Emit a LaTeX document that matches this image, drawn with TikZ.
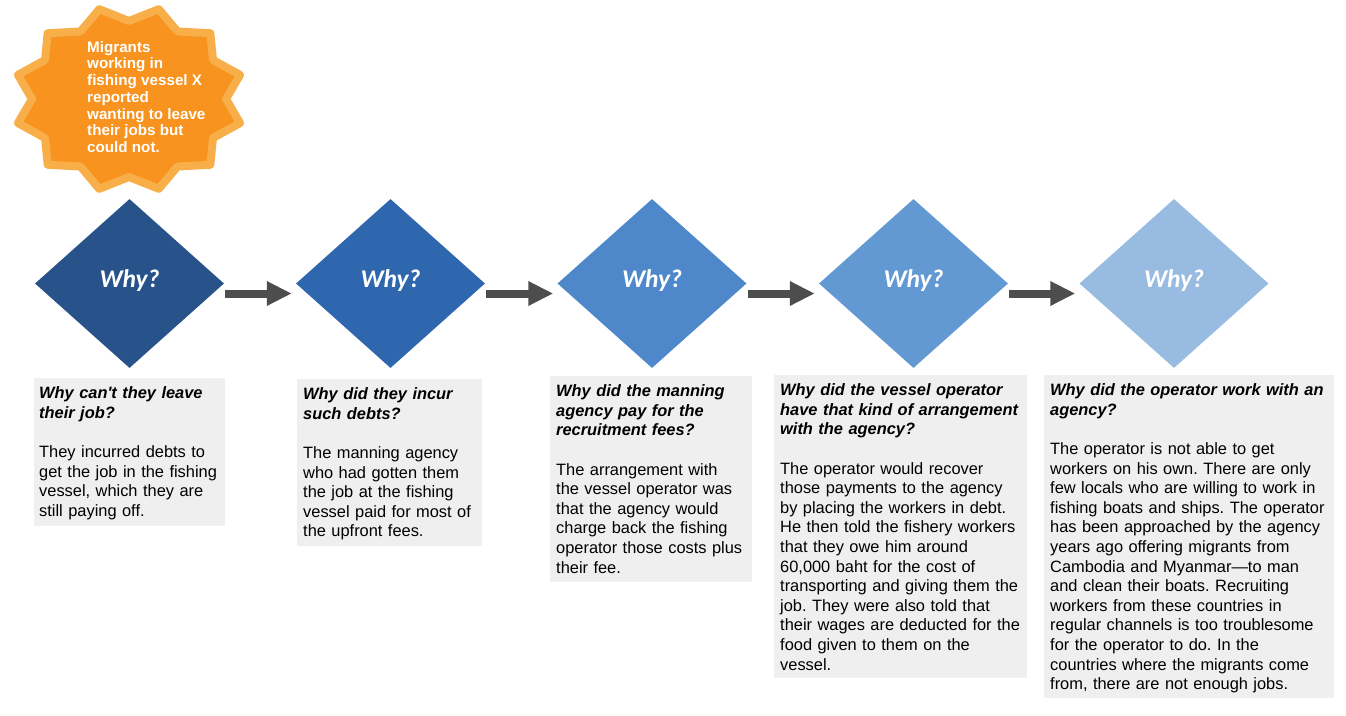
\documentclass[tikz,border=0pt]{standalone}
\usepackage{fontspec}
\setmainfont{Liberation Sans}[Ligatures=TeXOff]
\newfontfamily\whyfont{Carlito}
\usetikzlibrary{shapes.geometric,arrows.meta}
\frenchspacing
\definecolor{starfill}{HTML}{F7931E}
\definecolor{starline}{HTML}{F8AF4A}
\definecolor{dA}{HTML}{27538A}
\definecolor{dB}{HTML}{2F67AE}
\definecolor{dC}{HTML}{4E88CB}
\definecolor{dD}{HTML}{6399D2}
\definecolor{dE}{HTML}{98BBE1}
\definecolor{arrowgray}{HTML}{4D4D4D}
\definecolor{boxgray}{HTML}{EFEFEF}
\tikzset{
  whybox/.style={diamond, minimum width=189pt, minimum height=169pt, inner sep=0pt,
    text height=17.5pt, text depth=9pt,
    text=white, font=\whyfont\bfseries\itshape\fontsize{25.5}{30}\selectfont},
  flow/.style={draw=arrowgray, line width=8pt, -{Triangle[width=23pt,length=25pt]}},
  greybox/.style={fill=boxgray, anchor=north west, inner sep=0pt},
  boxtext/.style={anchor=north west, inner sep=0pt, align=left,
    font=\fontsize{16.4}{19.6}\selectfont\frenchspacing},
  startext/.style={anchor=north west, inner sep=0pt, align=left, text=white,
    font=\bfseries\fontsize{15.2}{16.7}\selectfont},
}
\begin{document}
\begin{tikzpicture}[x=1pt,y=-1pt]
\useasboundingbox (0,0) rectangle (1346,715);

% burst
\draw[fill=starfill, draw=starline, line width=8pt, line join=round]
  plot[samples at={0,...,23}, variable=\k]
  ({129+(mod(\k,2)==0 ? 115 : 97)*cos(15+15*\k)}, {99+(mod(\k,2)==0 ? 93 : 78)*sin(15+15*\k)}) -- cycle;
\node[startext] (star) at (87,41) {Migrants\\working in\\fishing vessel X\\reported\\wanting to leave\\their jobs but\\could not.};

% diamonds
\node[whybox, fill=dA] (d1) at (129.5,283.5) {Why?};
\node[whybox, fill=dB] (d2) at (390.5,283.5) {Why?};
\node[whybox, fill=dC] (d3) at (652,283.5) {Why?};
\node[whybox, fill=dD] (d4) at (913.5,283.5) {Why?};
\node[whybox, fill=dE] (d5) at (1174,283.5) {Why?};

% arrows
\draw[flow] ([xshift=1pt,yshift=-10pt]d1.east) -- ([xshift=-4pt,yshift=-10pt]d2.west);
\draw[flow] ([xshift=1pt,yshift=-10pt]d2.east) -- ([xshift=-4pt,yshift=-10pt]d3.west);
\draw[flow] ([xshift=1pt,yshift=-10pt]d3.east) -- ([xshift=-4pt,yshift=-10pt]d4.west);
\draw[flow] ([xshift=1pt,yshift=-10pt]d4.east) -- ([xshift=-4pt,yshift=-10pt]d5.west);

% grey boxes
\node[greybox, minimum width=191pt, minimum height=148pt] (b1) at (34,378) {};
\node[greybox, minimum width=185pt, minimum height=167pt] (b2) at (297,379) {};
\node[greybox, minimum width=202pt, minimum height=206pt] (b3) at (550,376) {};
\node[greybox, minimum width=253pt, minimum height=303pt] (b4) at (774,375) {};
\node[greybox, minimum width=290pt, minimum height=323pt] (b5) at (1044,375) {};

\node[boxtext, text width=220pt] (t1) at ([xshift=5pt,yshift=-8.6pt]b1.north west)
 {{\bfseries\itshape Why can't they leave\\their job?}\\[19.6pt]They incurred debts to\\get the job in the fishing\\vessel, which they are\\still paying off.};
\node[boxtext, text width=220pt] (t2) at ([xshift=6pt,yshift=-8.6pt]b2.north west)
 {{\bfseries\itshape Why did they incur\\such debts?}\\[19.6pt]The manning agency\\who had gotten them\\the job at the fishing\\vessel paid for most of\\the upfront fees.};
\node[boxtext, text width=230pt] (t3) at ([xshift=6pt,yshift=-8.6pt]b3.north west)
 {{\bfseries\itshape Why did the manning\\agency pay for the\\recruitment fees?}\\[19.6pt]The arrangement with\\the vessel operator was\\that the agency would\\charge back the fishing\\operator those costs plus\\their fee.};
\node[boxtext, text width=280pt] (t4) at ([xshift=6pt,yshift=-8.6pt]b4.north west)
 {{\bfseries\itshape Why did the vessel operator\\have that kind of arrangement\\with the agency?}\\[19.6pt]The operator would recover\\those payments to the agency\\by placing the workers in debt.\\He then told the fishery workers\\that they owe him around\\60,000 baht for the cost of\\transporting and giving them the\\job. They were also told that\\their wages are deducted for the\\food given to them on the\\vessel.};
\node[boxtext, text width=320pt] (t5) at ([xshift=6pt,yshift=-8.6pt]b5.north west)
 {{\bfseries\itshape Why did the operator work with an\\agency?}\\[19.6pt]The operator is not able to get\\workers on his own. There are only\\few locals who are willing to work in\\fishing boats and ships. The operator\\has been approached by the agency\\years ago offering migrants from\\Cambodia and Myanmar—to man\\and clean their boats. Recruiting\\workers from these countries in\\regular channels is too troublesome\\for the operator to do. In the\\countries where the migrants come\\from, there are not enough jobs.};
\end{tikzpicture}
\end{document}
